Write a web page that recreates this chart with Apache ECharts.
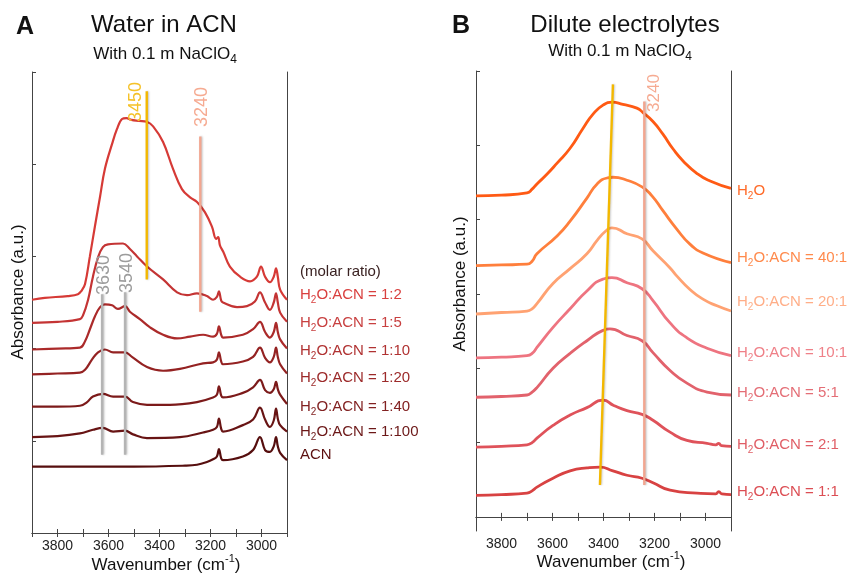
<!DOCTYPE html>
<html><head><meta charset="utf-8">
<script src="https://cdn.jsdelivr.net/npm/echarts@6/dist/echarts.min.js"></script>
<style>html,body{margin:0;padding:0;background:#fff}#c{width:852px;height:575px}</style>
</head><body><div id="c"></div>
<script>
// ---------- axis ticks ----------
const xTickLabels = [3800, 3600, 3400, 3200, 3000];
const yTicksB = [0, 1, 2, 3, 4, 5, 6];

// ---------- Panel A: water in ACN (offset spectra, a.u.) ----------
const namesA = ['1:2', '1:5', '1:10', '1:20', '1:40', '1:100', 'ACN'];
const specA_1_2 = [[3900,2.53],[3850,2.55],[3760,2.57],[3720,2.59],[3705,2.63],[3692,2.70],[3673,3.00],[3653,3.33],[3633,3.65],[3614,3.95],[3586,4.22],[3567,4.38],[3547,4.49],[3530,4.50],[3510,4.48],[3480,4.47],[3450,4.46],[3425,4.41],[3386,4.24],[3347,3.95],[3312,3.73],[3280,3.64],[3253,3.59],[3222,3.48],[3194,3.32],[3178,3.19],[3170,3.21],[3163,3.12],[3150,3.05],[3124,2.89],[3084,2.78],[3045,2.73],[3018,2.78],[3002,2.89],[2986,2.78],[2967,2.72],[2952,2.78],[2943,2.87],[2936,2.78],[2927,2.64],[2900,2.53]];
const specA_1_5 = [[3900,2.28],[3800,2.29],[3712,2.32],[3700,2.36],[3680,2.53],[3661,2.78],[3641,2.99],[3622,3.10],[3602,3.13],[3543,3.14],[3516,3.08],[3488,3.00],[3449,2.89],[3386,2.75],[3331,2.61],[3292,2.58],[3253,2.60],[3214,2.57],[3190,2.53],[3175,2.56],[3167,2.62],[3158,2.52],[3151,2.50],[3096,2.45],[3057,2.46],[3026,2.51],[3006,2.61],[2986,2.50],[2967,2.42],[2952,2.50],[2943,2.60],[2936,2.50],[2927,2.39],[2900,2.29]];
const specA_1_10 = [[3900,1.99],[3800,2.00],[3712,2.01],[3692,2.08],[3673,2.21],[3653,2.35],[3633,2.45],[3614,2.48],[3586,2.47],[3563,2.43],[3535,2.46],[3516,2.40],[3477,2.32],[3437,2.23],[3386,2.15],[3331,2.11],[3280,2.13],[3229,2.15],[3190,2.13],[3175,2.16],[3167,2.24],[3158,2.15],[3151,2.12],[3073,2.15],[3033,2.21],[3006,2.29],[2986,2.18],[2967,2.12],[2952,2.18],[2943,2.28],[2936,2.18],[2927,2.10],[2900,2.00]];
const specA_1_20 = [[3900,1.72],[3800,1.73],[3712,1.74],[3692,1.77],[3665,1.88],[3641,1.96],[3614,1.99],[3582,1.96],[3555,1.96],[3535,1.96],[3508,1.91],[3449,1.80],[3386,1.76],[3320,1.78],[3229,1.84],[3190,1.85],[3175,1.88],[3167,1.96],[3158,1.86],[3151,1.83],[3073,1.86],[3033,1.91],[3006,2.01],[2986,1.90],[2967,1.85],[2952,1.91],[2943,2.01],[2936,1.91],[2927,1.83],[2900,1.73]];
const specA_1_40 = [[3900,1.37],[3800,1.37],[3712,1.38],[3684,1.42],[3661,1.48],[3622,1.51],[3582,1.48],[3535,1.48],[3504,1.42],[3449,1.39],[3359,1.39],[3253,1.42],[3190,1.47],[3175,1.50],[3167,1.59],[3158,1.49],[3151,1.47],[3073,1.52],[3033,1.58],[3006,1.66],[2986,1.55],[2967,1.52],[2952,1.56],[2943,1.64],[2936,1.56],[2927,1.50],[2900,1.40]];
const specA_1_100 = [[3900,1.04],[3800,1.05],[3712,1.08],[3661,1.12],[3622,1.14],[3582,1.10],[3535,1.11],[3504,1.07],[3449,1.03],[3320,1.04],[3229,1.09],[3190,1.12],[3175,1.15],[3167,1.24],[3158,1.13],[3151,1.10],[3073,1.17],[3033,1.23],[3006,1.36],[2986,1.23],[2967,1.15],[2952,1.22],[2943,1.35],[2936,1.24],[2927,1.17],[2900,1.10]];
const specA_ACN = [[3900,0.72],[3700,0.72],[3500,0.72],[3300,0.73],[3253,0.74],[3214,0.77],[3190,0.80],[3175,0.83],[3167,0.91],[3158,0.81],[3151,0.79],[3073,0.83],[3033,0.90],[3006,1.04],[2986,0.90],[2967,0.88],[2952,0.94],[2943,1.04],[2936,0.94],[2927,0.87],[2900,0.79]];
const specA = [specA_1_2, specA_1_5, specA_1_10, specA_1_20, specA_1_40, specA_1_100, specA_ACN];

// marker lines panel A: wavenumber, [y start, y end]
const markA_wn = [3450, 3240, 3625, 3535];
const markA_y = [[2.75, 4.79], [2.40, 4.30], [0.85, 2.59], [0.85, 2.61]];

// ---------- Panel B: dilute electrolytes ----------
const namesB = ['H2O', '40:1', '20:1', '10:1', '5:1', '2:1', '1:1'];
const specB_H2O = [[3900,4.32],[3800,4.33],[3700,4.36],[3680,4.41],[3661,4.48],[3622,4.61],[3582,4.76],[3531,4.96],[3480,5.23],[3441,5.42],[3402,5.54],[3367,5.58],[3324,5.55],[3269,5.50],[3245,5.44],[3206,5.32],[3167,5.15],[3127,4.95],[3088,4.79],[3033,4.62],[2982,4.52],[2900,4.42]];
const specB_40 = [[3900,3.38],[3800,3.39],[3700,3.40],[3680,3.44],[3661,3.54],[3582,3.78],[3531,3.98],[3465,4.29],[3425,4.48],[3386,4.56],[3363,4.57],[3308,4.53],[3249,4.44],[3210,4.32],[3167,4.12],[3112,3.87],[3061,3.67],[3010,3.55],[2900,3.42]];
const specB_20 = [[3900,2.73],[3800,2.75],[3700,2.77],[3680,2.80],[3661,2.87],[3598,3.14],[3531,3.34],[3465,3.54],[3425,3.72],[3390,3.85],[3367,3.89],[3308,3.81],[3249,3.74],[3206,3.58],[3139,3.35],[3112,3.24],[3061,3.06],[3010,2.93],[2955,2.84],[2900,2.77]];
const specB_10 = [[3900,2.14],[3800,2.15],[3700,2.17],[3680,2.20],[3661,2.28],[3598,2.55],[3531,2.80],[3465,3.04],[3402,3.20],[3367,3.22],[3308,3.15],[3249,3.07],[3206,2.91],[3139,2.61],[3073,2.41],[2994,2.27],[2900,2.17]];
const specB_5 = [[3900,1.61],[3800,1.62],[3700,1.64],[3680,1.68],[3661,1.74],[3598,2.00],[3531,2.20],[3465,2.37],[3402,2.51],[3375,2.53],[3308,2.44],[3249,2.37],[3206,2.21],[3139,1.97],[3073,1.80],[2994,1.68],[2900,1.64]];
const specB_2 = [[3900,0.94],[3800,0.95],[3700,0.97],[3680,1.00],[3661,1.06],[3598,1.23],[3531,1.37],[3465,1.47],[3402,1.57],[3360,1.50],[3308,1.43],[3249,1.38],[3206,1.30],[3139,1.14],[3073,1.03],[2994,0.99],[2960,0.97],[2948,0.99],[2938,0.96],[2900,0.95]];
const specB_1 = [[3900,0.29],[3800,0.30],[3700,0.32],[3680,0.35],[3661,0.40],[3598,0.52],[3531,0.62],[3465,0.66],[3414,0.67],[3363,0.62],[3308,0.56],[3249,0.52],[3206,0.46],[3139,0.36],[3033,0.32],[2960,0.31],[2948,0.34],[2936,0.31],[2900,0.30]];
const specB = [specB_H2O, specB_40, specB_20, specB_10, specB_5, specB_2, specB_1];

// marker lines panel B
const markB_yellow = [[3363, 5.82], [3414, 0.43]];
const markB_3240 = [[3240, 5.59], [3240, 0.43]];

// ---------- styles ----------
const FONT = '"Liberation Sans", Arial, "DejaVu Sans", sans-serif';
const colA = ['#d63a36', '#c43434', '#ab2a2a', '#942222', '#7c1a1a', '#681414', '#560e0e'];
const colAtext = ['#d9403f', '#c84040', '#b03232', '#9c2a2a', '#822222', '#6c1818', '#5c1010'];
const colB = ['#ff5a14', '#ff7f3c', '#ffa272', '#ee7480', '#e2626c', '#df525a', '#d84242'];
const colBtext = ['#ff6a28', '#ff8a4c', '#ffae88', '#ef8088', '#e46e76', '#e05e66', '#dc4e54'];

const chart = echarts.init(document.getElementById('c'), null, {renderer: 'canvas'});

function xAx(grid, pos) {
  return {
    type: 'value', gridIndex: grid, position: pos, min: 2900, max: 3900, interval: 100, inverse: true,
    axisLine: {show: true, lineStyle: {color: '#444', width: 1}},
    axisTick: {show: true, inside: true, length: 4, lineStyle: {color: '#444'}},
    splitLine: {show: false},
    axisLabel: pos === 'bottom' ? {
      show: true, margin: 6, fontSize: 14, color: '#222', fontFamily: FONT,
      formatter: v => xTickLabels.indexOf(v) >= 0 ? String(v) : ''
    } : {show: false}
  };
}
function yAx(grid, pos, min, max, interval, custom) {
  const o = {
    type: 'value', gridIndex: grid, position: pos, min: min, max: max,
    axisLine: {show: true, lineStyle: {color: '#444', width: 1}},
    axisTick: {show: pos === 'left', inside: true, length: 4, lineStyle: {color: '#444'}},
    axisLabel: {show: false}, splitLine: {show: false}
  };
  if (interval) o.interval = interval;
  if (custom) o.axisTick.customValues = custom;
  return o;
}

const series = [];
specA.forEach((d, i) => series.push({
  type: 'line', xAxisIndex: 0, yAxisIndex: 0, data: d, showSymbol: false, smooth: 0.4,
  lineStyle: {color: colA[i], width: 2.2}, z: 3, silent: true
}));
specB.forEach((d, i) => series.push({
  type: 'line', xAxisIndex: 2, yAxisIndex: 2, data: d, showSymbol: false, smooth: 0.55,
  lineStyle: {color: colB[i], width: 2.8}, z: 3, silent: true
}));
const markColA = ['#f3b800', '#f2a690', '#b4b4b4', '#b4b4b4'];
markA_wn.forEach((wn, i) => series.push({
  type: 'line', xAxisIndex: 0, yAxisIndex: 0, showSymbol: false,
  data: [[wn, markA_y[i][0]], [wn, markA_y[i][1]]],
  lineStyle: {color: markColA[i], width: 2.4, shadowColor: 'rgba(0,0,0,0.25)', shadowBlur: 2, shadowOffsetX: 1},
  z: 4, silent: true
}));
series.push({
  type: 'line', xAxisIndex: 2, yAxisIndex: 2, showSymbol: false, data: markB_yellow,
  lineStyle: {color: '#f3b800', width: 2.4, shadowColor: 'rgba(0,0,0,0.2)', shadowBlur: 2, shadowOffsetX: 1}, z: 5, silent: true
});
series.push({
  type: 'line', xAxisIndex: 2, yAxisIndex: 2, showSymbol: false, data: markB_3240,
  lineStyle: {color: '#f2a690', width: 2.4, shadowColor: 'rgba(0,0,0,0.25)', shadowBlur: 2, shadowOffsetX: 1}, z: 4, silent: true
});

// ---------- text helpers ----------
function subText(main, x, y, fs, color, align) {
  return {
    type: 'text', x: x, y: y, z: 10, silent: true,
    style: {
      text: main, fontFamily: FONT, fill: color, align: align || 'left', verticalAlign: 'middle',
      rich: {
        m: {fontSize: fs, fontFamily: FONT, fill: color, lineHeight: Math.round(fs * 1.4)},
        s: {fontSize: Math.round(fs * 0.68), fontFamily: FONT, fill: color, lineHeight: Math.round(fs * 0.68), verticalAlign: 'bottom'},
        u: {fontSize: Math.round(fs * 0.62), fontFamily: FONT, fill: color, lineHeight: Math.round(fs * 0.62), verticalAlign: 'top'}
      }
    }
  };
}
function ratioLabel(name) {
  if (name === 'ACN') return '{m|ACN}';
  if (name === 'H2O') return '{m|H}{s|2}{m|O}';
  return '{m|H}{s|2}{m|O:ACN = ' + name + '}';
}
function plain(t, x, y, fs, color, align, extra) {
  return Object.assign({type: 'text', x: x, y: y, z: 10, silent: true,
    style: {text: t, fontSize: fs, fontFamily: FONT, fill: color, align: align, verticalAlign: 'middle'}}, extra || {});
}

const graphics = [];
graphics.push(plain('A', 16, 27, 25, '#111', 'left', {style: {text: 'A', fontSize: 25, fontWeight: 'bold', fontFamily: FONT, fill: '#111', align: 'left', verticalAlign: 'middle'}}));
graphics.push(plain('B', 452, 26, 25, '#111', 'left', {style: {text: 'B', fontSize: 25, fontWeight: 'bold', fontFamily: FONT, fill: '#111', align: 'left', verticalAlign: 'middle'}}));
graphics.push(plain('Water in ACN', 164, 25, 24, '#111', 'center'));
graphics.push(plain('Dilute electrolytes', 625, 25, 24, '#111', 'center'));
graphics.push(subText('{m|With 0.1 m NaClO}{s|4}', 165, 54, 17, '#111', 'center'));
graphics.push(subText('{m|With 0.1 m NaClO}{s|4}', 620, 51, 17, '#111', 'center'));

// axis names
graphics.push(subText('{m|Wavenumber (cm}{u|-1}{m|)}', 166, 565, 17, '#111', 'center'));
graphics.push(subText('{m|Wavenumber (cm}{u|-1}{m|)}', 611, 562, 17, '#111', 'center'));
graphics.push(plain('Absorbance (a.u.)', 18, 292, 17, '#111', 'center', {rotation: Math.PI / 2}));
graphics.push(plain('Absorbance (a.u.)', 460, 284, 17, '#111', 'center', {rotation: Math.PI / 2}));

// series labels
graphics.push(plain('(molar ratio)', 300, 272, 15, '#3a2222', 'left'));
const labYA = [295, 323, 351, 378, 407, 432, 455];
namesA.forEach((n, i) => graphics.push(subText(ratioLabel(n), 300, labYA[i], 15, colAtext[i])));
const labYB = [191, 258, 302, 353, 393, 445, 492];
namesB.forEach((n, i) => graphics.push(subText(ratioLabel(n), 737, labYB[i], 15, colBtext[i])));

// marker value labels (rotated)
const R = {rotation: Math.PI / 2};
graphics.push(plain('3450', 136, 102, 18, '#f5c22a', 'center', R));
graphics.push(plain('3240', 202, 107, 18, '#f6ab92', 'center', R));
graphics.push(plain('3630', 104, 275, 18, '#9c9c9c', 'center', R));
graphics.push(plain('3540', 127, 273, 18, '#9c9c9c', 'center', R));
graphics.push(plain('3240', 654, 93, 17, '#f6ab92', 'center', R));

chart.setOption({
  animation: false,
  backgroundColor: '#fff',
  grid: [
    {left: 32, top: 72, width: 255, height: 461},
    {left: 476, top: 71, width: 255, height: 460}
  ],
  xAxis: [xAx(0, 'bottom'), xAx(0, 'top'), xAx(1, 'bottom'), xAx(1, 'top')],
  yAxis: [
    yAx(0, 'left', 0, 5, 1), yAx(0, 'right', 0, 5, 1),
    yAx(1, 'left', -0.19, 6, null, yTicksB), yAx(1, 'right', -0.19, 6, null, null)
  ],
  series: series,
  graphic: graphics
});
</script></body></html>
